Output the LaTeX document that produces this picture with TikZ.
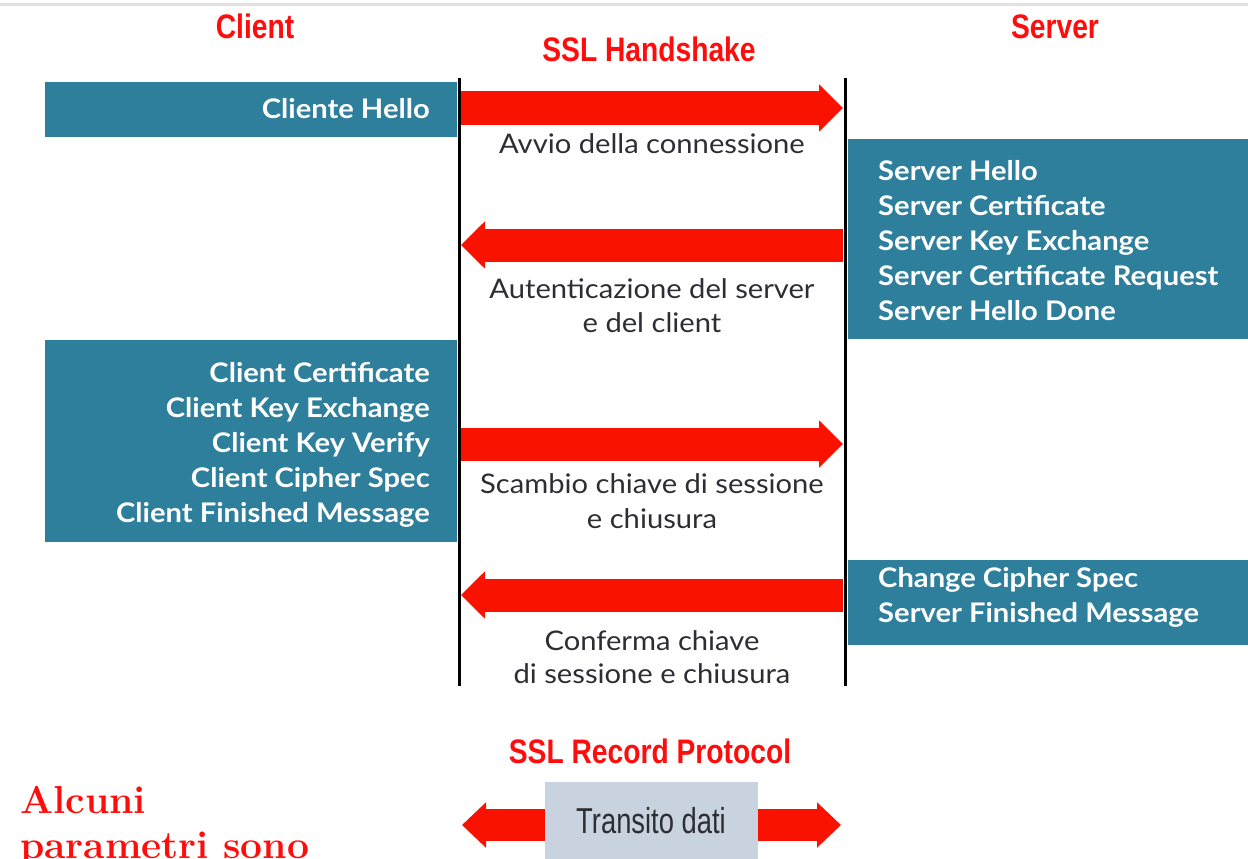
\documentclass[tikz,border=0pt]{standalone}
\usepackage{fontspec}
\usetikzlibrary{arrows.meta}

\newfontfamily\msgfont[FakeStretch=1.08]{Lato}
\newfontfamily\headfont[FakeStretch=0.83]{Liberation Sans}
\newfontfamily\datafont[FakeStretch=0.76]{Liberation Sans}

\definecolor{boxblue}{RGB}{46,127,155}
\definecolor{arrred}{RGB}{250,18,0}
\definecolor{titlered}{RGB}{255,12,12}
\definecolor{labelgray}{RGB}{45,45,52}
\definecolor{datagray}{RGB}{201,211,223}
\definecolor{rulegray}{RGB}{224,224,224}

\tikzset{
  lifeline/.style={line width=3pt, black},
  flow/.style={arrred, line width=33pt, line cap=butt,
    -{Triangle[length=24pt,width=46pt]}},
  dataflow/.style={arrred, line width=32pt, line cap=butt,
    -{Triangle[length=24pt,width=44pt]}},
  msgbox/.style={fill=boxblue, draw=none, inner sep=0pt, anchor=north west},
  srvtext/.style={anchor=base west, inner sep=0pt, text=white,
    font=\msgfont\bfseries\fontsize{27}{30}\selectfont},
  clitext/.style={anchor=base east, inner sep=0pt, text=white,
    font=\msgfont\bfseries\fontsize{27}{30}\selectfont},
  steplabel/.style={anchor=base, inner sep=0pt, text=labelgray,
    font=\msgfont\fontsize{27}{30}\selectfont},
  title/.style={anchor=base, inner sep=0pt, text=titlered,
    font=\headfont\bfseries\fontsize{34}{40}\selectfont},
  note/.style={anchor=base west, inner sep=0pt, text=titlered,
    font=\rmfamily\bfseries\fontsize{39}{45}\selectfont}
}

\begin{document}
\begin{tikzpicture}[x=1pt,y=-1pt]
\useasboundingbox (0,0) rectangle (1248,859);
\clip (0,0) rectangle (1248,859);

% thin rule along the top edge
\coordinate (ruleL) at (0,5);
\coordinate (ruleR) at (1248,5);
\draw[rulegray, line width=3pt] (ruleL) -- (ruleR);

% titles
\node[title] (client) at (255,39) {Client};
\node[title] (server) at (1055,39) {Server};
\node[title] (handshake) at (649,62) {SSL Handshake};

% message boxes
\node[msgbox, minimum width=412pt, minimum height=55pt] (boxHello) at (45,82) {};
\node[msgbox, minimum width=402pt, minimum height=200pt] (boxSrv) at (848,139) {};
\node[msgbox, minimum width=412pt, minimum height=202pt] (boxCli) at (45,340) {};
\node[msgbox, minimum width=402pt, minimum height=85pt] (boxFin) at (848,560) {};

% lifelines
\coordinate (cTop) at (459,78);
\coordinate (cBot) at (459,686);
\coordinate (sTop) at (845,78);
\coordinate (sBot) at (845,686);
\draw[lifeline] (cTop) -- (cBot);
\draw[lifeline] (sTop) -- (sBot);

% box texts
\node[clitext] (hello) at (430,118) {Cliente Hello};
\foreach \t [count=\i] in {Server Hello, Server Certificate, Server Key Exchange,
    Server Certificate Request, Server Hello Done}
  \node[srvtext] (srv\i) at (878,145+35*\i) {\t};
\foreach \t [count=\i] in {Client Certificate, Client Key Exchange, Client Key Verify,
    Client Cipher Spec, Client Finished Message}
  \node[clitext] (cli\i) at (430,347+35*\i) {\t};
\node[srvtext] (fin1) at (878,587) {Change Cipher Spec};
\node[srvtext] (fin2) at (878,622) {Server Finished Message};

% handshake arrows between the lifelines
\coordinate (c1) at (461,108);  \coordinate (s1) at (843,108);
\coordinate (c2) at (461,245);  \coordinate (s2) at (843,245);
\coordinate (c3) at (461,444);  \coordinate (s3) at (843,444);
\coordinate (c4) at (461,595);  \coordinate (s4) at (843,595);
\draw[flow] (c1) -- (s1);
\draw[flow] (s2) -- (c2);
\draw[flow] (c3) -- (s3);
\draw[flow] (s4) -- (c4);

% step captions
\node[steplabel] (lab1) at (652,153) {Avvio della connessione};
\node[steplabel] (lab2a) at (652,298) {Autenticazione del server};
\node[steplabel] (lab2b) at (652,332) {e del client};
\node[steplabel] (lab3a) at (652,493) {Scambio chiave di sessione};
\node[steplabel] (lab3b) at (652,528) {e chiusura};
\node[steplabel] (lab4a) at (652,650) {Conferma chiave};
\node[steplabel] (lab4b) at (652,683) {di sessione e chiusura};

% record protocol
\node[title] (record) at (650,763) {SSL Record Protocol};
\node[fill=datagray, inner sep=0pt, minimum width=213pt, minimum height=90pt,
      anchor=north west] (data) at (545,782) {};
\node[anchor=base, inner sep=0pt, text=labelgray,
      font=\datafont\fontsize{36}{40}\selectfont] (datatxt) at (651,833) {Transito dati};
\coordinate (dL) at (462,825);
\coordinate (dR) at (841,825);
\draw[dataflow] (data.west |- dL) -- (dL);
\draw[dataflow] (data.east |- dR) -- (dR);

% side note
\node[note] (note1) at (20,813) {Alcuni};
\node[note] (note2) at (20,858) {parametri sono};
\end{tikzpicture}
\end{document}
